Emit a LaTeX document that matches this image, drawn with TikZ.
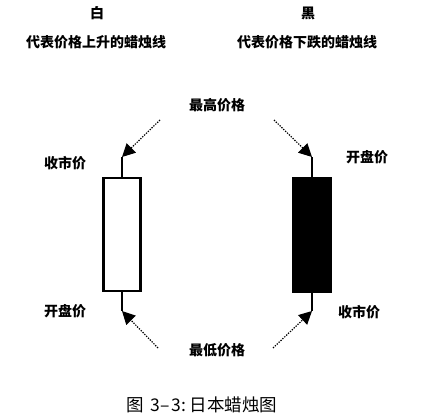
\documentclass[tikz,border=0pt]{standalone}
\usepackage{fontspec}
\newfontfamily\cjk{Noto Sans CJK SC}
\usetikzlibrary{arrows.meta}
\begin{document}
\begin{tikzpicture}[x=1pt,y=-1pt]
	\tikzset{
		lbl/.style ={
			font=\cjk\bfseries\fontsize{14}{16}\selectfont, %文字
			inner sep=0pt
		},
		candle/.style ={
			rectangle, %蜡烛实体
			minimum width =37pt,
			minimum height =113pt,
			inner sep=0pt,
			line width=2.6pt,
			draw=black
		},
		wick/.style ={line width=2.6pt},
		hint/.style ={
			dash pattern=on 1.3pt off 1.3pt,
			line width=1.2pt,
			-{Triangle[length=13pt,width=13pt]}
		}
	}
	\useasboundingbox (0,0) rectangle (423,420);
	% 标题
	\node[lbl] (white) at (97,13) {白};
	\node[lbl] (black) at (308,13) {黑};
	\node[lbl] (up) at (96,42) {代表价格上升的蜡烛线};
	\node[lbl] (down) at (307,42) {代表价格下跌的蜡烛线};
	% 蜡烛
	\node[candle, fill=white] (lbox) at (122,234.5) {};
	\node[candle, fill=black] (rbox) at (312,235) {};
	\coordinate (ltop) at (122,157);
	\coordinate (lbot) at (122,311);
	\coordinate (rtop) at (312,157);
	\coordinate (rbot) at (312,311);
	\draw[wick] (lbox.north)--(ltop);
	\draw[wick] (lbox.south)--(lbot);
	\draw[wick] (rbox.north)--(rtop);
	\draw[wick] (rbox.south)--(rbot);
	% 价格标签
	\node[lbl] (high) at (217,105) {最高价格};
	\node[lbl] (low) at (217,350) {最低价格};
	\node[lbl] (lclose) at (65,163) {收市价};
	\node[lbl] (ropen) at (367,157) {开盘价};
	\node[lbl] (lopen) at (65,311) {开盘价};
	\node[lbl] (rclose) at (359,312) {收市价};
	\coordinate (h1) at (160,120);
	\coordinate (h2) at (274,120);
	\coordinate (l1) at (158,348);
	\coordinate (l2) at (273,348);
	\draw[hint] (h1)--(ltop);
	\draw[hint] (h2)--(rtop);
	\draw[hint] (l1)--(lbot);
	\draw[hint] (l2)--(rbot);
	% 图题
	\node[font=\cjk\fontsize{17.5}{19}\selectfont, inner sep=0pt] (cap) at (202,405) {图\kern6pt 3\kern1pt–\kern1pt3\kern1pt:\kern3pt日本蜡烛图};
\end{tikzpicture}
\end{document}
